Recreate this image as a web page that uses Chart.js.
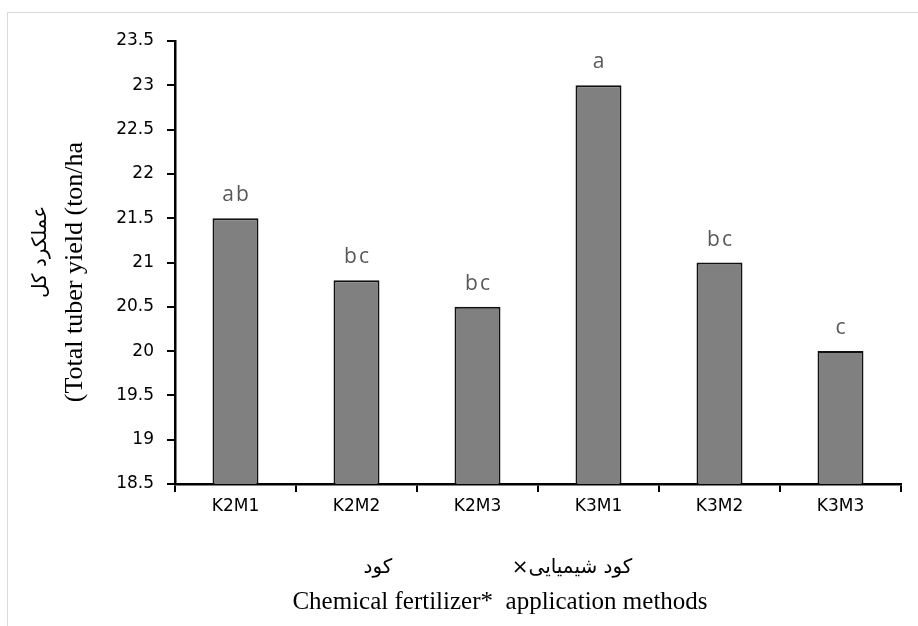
<!DOCTYPE html>
<html><head><meta charset="utf-8">
<script src="https://cdn.jsdelivr.net/npm/chart.js@4.4.0/dist/chart.umd.min.js"></script>
<style>
html,body{margin:0;padding:0;background:#fff;overflow:hidden;width:918px;height:626px;}
#frame{position:absolute;left:7px;top:12px;width:1200px;height:1200px;border:1px solid #d9d9d9;box-sizing:border-box;}
#wrap{position:absolute;left:0;top:0;width:918px;height:626px;}
</style></head><body>
<div id="frame"></div>
<div id="wrap"><canvas id="c" width="918" height="626"></canvas></div>
<script>
const categories = ['K2M1', 'K2M2', 'K2M3', 'K3M1', 'K3M2', 'K3M3'];
const yieldValues = [21.5, 20.8, 20.5, 23.0, 21.0, 20.0];
const groupLetters = ['ab', 'bc', 'bc', 'a', 'bc', 'c'];
const yMin = 18.5, yMax = 23.5, yStep = 0.5;
const yTitleFa = 'عملکرد کل';
const yTitleEn = '(Total tuber yield (ton/ha';
const xTitleFaRight = 'کود شیمیایی×';
const xTitleFaLeft = 'کود';
const xTitleEn = 'Chemical fertilizer*  application methods';

const annot = {
  id: 'annot',
  afterDatasetsDraw(chart) {
    const ctx = chart.ctx;
    const meta = chart.getDatasetMeta(0);
    ctx.save();
    ctx.font = '21px "Open Sans"';
    ctx.fillStyle = '#595959';
    ctx.textAlign = 'center';
    ctx.textBaseline = 'alphabetic';
    ctx.letterSpacing = '2px';
    meta.data.forEach((bar, i) => {
      ctx.fillText(groupLetters[i], bar.x + 1, bar.y - 17);
    });
    ctx.restore();

    // y-axis title (two lines, rotated)
    ctx.save();
    ctx.fillStyle = '#000';
    ctx.translate(82, 272);
    ctx.rotate(-Math.PI / 2);
    ctx.font = '26px "Liberation Serif"';
    ctx.textAlign = 'center';
    ctx.textBaseline = 'alphabetic';
    ctx.fillText(yTitleEn, 0, 0);
    ctx.restore();

    ctx.save();
    ctx.fillStyle = '#000';
    ctx.translate(46, 252);
    ctx.rotate(-Math.PI / 2);
    ctx.direction = 'rtl';
    ctx.font = '20px "DejaVu Sans"';
    ctx.textAlign = 'center';
    ctx.textBaseline = 'alphabetic';
    ctx.fillText(yTitleFa, 0, 0);
    ctx.restore();

    // x-axis title
    ctx.save();
    ctx.fillStyle = '#000';
    ctx.textAlign = 'center';
    ctx.textBaseline = 'alphabetic';
    ctx.font = '25px "Liberation Serif"';
    ctx.fillText(xTitleEn, 500, 609);
    ctx.direction = 'rtl';
    ctx.font = '20px "DejaVu Sans"';
    ctx.fillText(xTitleFaLeft, 378, 573);
    ctx.fillText(xTitleFaRight, 572, 573);
    ctx.restore();
  }
};

new Chart(document.getElementById('c'), {
  type: 'bar',
  data: {
    labels: categories,
    datasets: [{
      data: yieldValues,
      backgroundColor: '#808080',
      borderColor: '#111',
      borderWidth: 2,
      barPercentage: 0.38,
      categoryPercentage: 1.0
    }]
  },
  options: {
    responsive: false,
    animation: false,
    devicePixelRatio: 1,
    layout: { padding: { top: 41, right: 17, left: 0, bottom: 0 } },
    plugins: { legend: { display: false }, tooltip: { enabled: false } },
    scales: {
      x: {
        grid: { display: true, drawOnChartArea: false, drawTicks: true, tickLength: 8, color: '#000', lineWidth: 2, offset: true },
        border: { display: true, color: '#000', width: 2.5 },
        ticks: { font: { family: 'DejaVu Sans', size: 17 }, color: '#000', padding: 4, maxRotation: 0, autoSkip: false },
        afterFit(s) { s.height = 142; }
      },
      y: {
        min: yMin, max: yMax,
        ticks: { stepSize: yStep, font: { family: 'DejaVu Sans', size: 17 }, color: '#000', padding: 13,
                 callback: (v) => String(v) },
        grid: { drawOnChartArea: false, drawTicks: true, tickLength: 8, color: '#000', lineWidth: 2 },
        border: { display: true, color: '#000', width: 2.5 },
        afterFit(s) { s.width = 175; }
      }
    }
  },
  plugins: [annot]
});
</script>
</body></html>
